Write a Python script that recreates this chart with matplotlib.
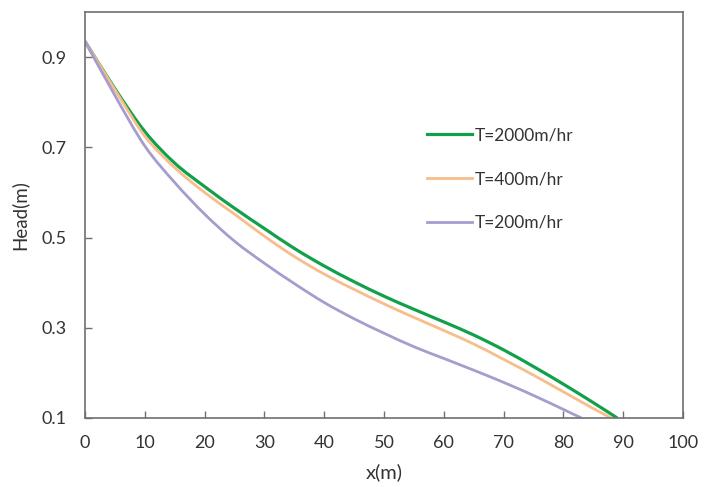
import matplotlib
matplotlib.use("Agg")
import matplotlib.pyplot as plt
from matplotlib.path import Path
from matplotlib.patches import PathPatch
import numpy as np

plt.rcParams['font.family'] = ['Lato', 'DejaVu Sans']

x_green = [0, 5, 10, 15, 20, 25, 30, 35, 40, 45, 50, 55, 60, 65, 70, 75, 80, 85, 89]
y_green = [0.935, 0.830, 0.735, 0.665, 0.613, 0.565, 0.520, 0.476, 0.437, 0.402, 0.370, 0.341, 0.313, 0.284, 0.251, 0.214, 0.175, 0.134, 0.100]

x_orange = [0, 5, 10, 15, 20, 25, 30, 35, 40, 45, 50, 55, 60, 65, 70, 75, 80, 85, 88]
y_orange = [0.935, 0.828, 0.725, 0.655, 0.600, 0.552, 0.503, 0.458, 0.419, 0.385, 0.353, 0.323, 0.294, 0.264, 0.230, 0.195, 0.158, 0.121, 0.100]

x_purple = [0, 5, 10, 15, 20, 25, 30, 35, 40, 45, 50, 55, 60, 65, 70, 75, 80, 83]
y_purple = [0.935, 0.815, 0.703, 0.622, 0.552, 0.492, 0.443, 0.398, 0.356, 0.320, 0.288, 0.258, 0.232, 0.206, 0.179, 0.150, 0.119, 0.100]

labels = ["T=2000m/hr", "T=400m/hr", "T=200m/hr"]
colors = ["#12A04A", "#F7BD8A", "#A89BCD"]
xticks = [0, 10, 20, 30, 40, 50, 60, 70, 80, 90, 100]
yticks = [0.1, 0.3, 0.5, 0.7, 0.9]


def smooth_path(xs, ys):
    """Excel-like smoothed line: Catmull-Rom segments drawn as cubic Bezier curves."""
    p = np.column_stack([xs, ys]).astype(float)
    verts = [tuple(p[0])]
    codes = [Path.MOVETO]
    n = len(p)
    for i in range(n - 1):
        p0 = p[i - 1] if i > 0 else p[i]
        p1 = p[i]
        p2 = p[i + 1]
        p3 = p[i + 2] if i + 2 < n else p[i + 1]
        c1 = p1 + (p2 - p0) / 6.0
        c2 = p2 - (p3 - p1) / 6.0
        verts += [tuple(c1), tuple(c2), tuple(p2)]
        codes += [Path.CURVE4] * 3
    return Path(verts, codes)


fig = plt.figure(figsize=(7.04, 4.87), dpi=100)
ax = fig.add_axes([85/704, 1-418/487, (683-85)/704, (418-12)/487])

series = [(x_green, y_green, 2.3), (x_orange, y_orange, 2.0), (x_purple, y_purple, 2.0)]
for (xs, ys, lw), c, lab in zip(series, colors, labels):
    patch = PathPatch(smooth_path(xs, ys), facecolor='none', edgecolor=c, lw=lw,
                      transform=ax.transData, capstyle='butt')
    ax.add_patch(patch)
    ax.plot([], [], color=c, lw=lw, label=lab)

ax.set_xlim(0, 100)
ax.set_ylim(0.1, 1.0)
ax.set_xticks(xticks)
ax.set_yticks(yticks)
ax.set_yticklabels([f"{v:.1f}" for v in yticks])
ax.tick_params(direction='in', length=5, width=1, color='#707070', labelsize=13, labelcolor='#333333')
ax.tick_params(axis='y', pad=13)
ax.tick_params(axis='x', pad=12)
for s in ax.spines.values():
    s.set_color('#707070')
    s.set_linewidth(1.2)

ax.set_xlabel("x(m)", fontsize=14.5, color='#333333', labelpad=9)
ax.set_ylabel("Head(m)", fontsize=13.5, color='#333333', labelpad=10)

leg = ax.legend(loc='upper left', bbox_to_anchor=(0.572, 0.716), frameon=False,
                fontsize=12.5, handlelength=2.6, handletextpad=0.15, labelspacing=1.6,
                borderpad=0, borderaxespad=0)
for t in leg.get_texts():
    t.set_color('#333333')

fig.savefig("out.png", dpi=100)
